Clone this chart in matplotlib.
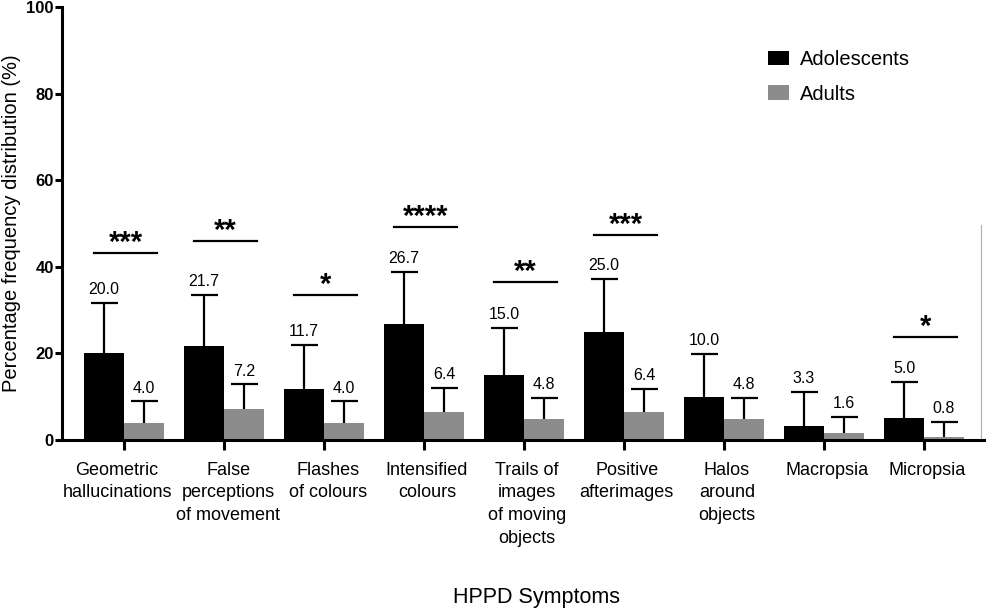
import numpy as np
import matplotlib
matplotlib.use("Agg")
from matplotlib import pyplot as plt

plt.rcParams['font.family'] = ['Liberation Sans', 'DejaVu Sans']

symptoms = ["Geometric\nhallucinations", "False\nperceptions\nof movement",
            "Flashes\nof colours", "Intensified\ncolours",
            "Trails of\nimages\nof moving\nobjects", "Positive\nafterimages",
            "Halos\naround\nobjects", "Macropsia", "Micropsia"]
adolescents = [20.0, 21.7, 11.7, 26.7, 15.0, 25.0, 10.0, 3.3, 5.0]
adolescents_sd = [11.7, 11.8, 10.3, 12.2, 10.9, 12.2, 9.9, 7.8, 8.5]
adults = [4.0, 7.2, 4.0, 6.4, 4.8, 6.4, 4.8, 1.6, 0.8]
adults_sd = [4.9, 5.7, 4.9, 5.7, 5.0, 5.5, 5.0, 3.8, 3.4]

# significance brackets: group index, stars, height of the line
sig_group = [0, 1, 2, 3, 4, 5, 8]
sig_stars = ["***", "**", "*", "****", "**", "***", "*"]
sig_height = [43.2, 46.0, 33.5, 49.2, 36.6, 47.4, 23.9]

black = "#000000"
grey = "#8c8c8c"
w = 0.4
cap = 0.135
# small horizontal nudges (points) of the category labels, as in the original
label_shift = [-5, 3, 3, 2, 2, 2, 2, 2, 2]

fig = plt.figure(figsize=(9.86, 6.12), dpi=100)
ax = fig.add_axes([0.063, 0.281, 0.936, 0.7075])

x = np.arange(len(symptoms))
ax.bar(x - w / 2, adolescents, w, color=black, label="Adolescents", zorder=2)
ax.bar(x + w / 2, adults, w, color=grey, label="Adults", zorder=2)

# upper error bars only, no cap at the bar top
for xs, vals, sds in [(x - w / 2, adolescents, adolescents_sd), (x + w / 2, adults, adults_sd)]:
    tops = np.array(vals) + np.array(sds)
    ax.vlines(xs, vals, tops, color="black", lw=1.6, zorder=3)
    ax.hlines(tops, xs - cap, xs + cap, color="black", lw=1.6, zorder=3)
    for xi, t, v in zip(xs, tops, vals):
        ax.annotate("%.1f" % v, (xi, t), xytext=(0, 4), textcoords="offset points",
                    ha="center", va="bottom", fontsize=11.5)

# significance lines and stars
for g, s, h in zip(sig_group, sig_stars, sig_height):
    ax.plot([g - 0.3, g + 0.33], [h, h], color="black", lw=1.6, zorder=3)
    ax.annotate(s, (g + 0.015, h), xytext=(0, 1.5), textcoords="offset points",
                ha="center", va="baseline", fontsize=21, fontweight="bold")

# faint line at the right edge
ax.plot([8.57, 8.57], [0, 49.6], color="#b0b0b0", lw=0.8, zorder=1)

ax.set_xlim(-0.62, 8.61)
ax.set_ylim(0, 100)
ax.set_yticks([0, 20, 40, 60, 80, 100])
ax.set_xticks(x)
ax.set_xticklabels([])
for xi, lab, dx in zip(x, symptoms, label_shift):
    ax.annotate(lab, (xi, 0), xycoords=("data", "axes fraction"), xytext=(dx, -15.5),
                textcoords="offset points", ha="center", va="top", fontsize=13,
                linespacing=1.45, annotation_clip=False)
for lab in ax.get_yticklabels():
    lab.set_fontweight("bold")
    lab.set_fontsize(12)

ax.spines["top"].set_visible(False)
ax.spines["right"].set_visible(False)
ax.spines["left"].set_linewidth(2.2)
ax.spines["bottom"].set_linewidth(2.2)
ax.tick_params(axis="x", length=7, width=2.2)
ax.tick_params(axis="y", length=5, width=2.2, pad=1)

ax.set_ylabel("Percentage frequency distribution (%)", fontsize=14.5, labelpad=4)
fig.text(0.544, 1 - 597 / 612, "HPPD Symptoms", fontsize=15.5, ha="center", va="center")

ax.legend(loc="upper left", bbox_to_anchor=(0.745, 0.943), frameon=False, fontsize=14.5,
          handlelength=1.05, handleheight=0.7, labelspacing=0.78, handletextpad=0.55)

plt.savefig("out.png", dpi=100)
